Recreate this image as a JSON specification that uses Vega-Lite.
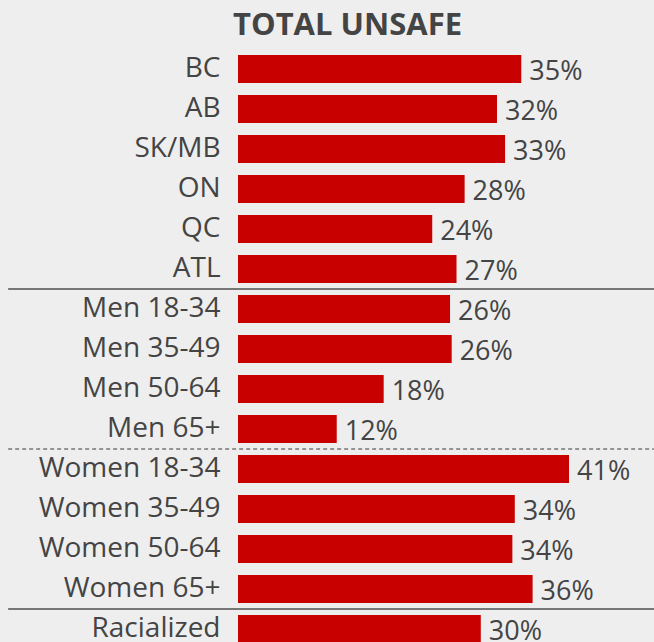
{
  "$schema": "https://vega.github.io/schema/vega-lite/v6.json",
  "autosize": "none",
  "padding": {"left": 238, "top": 49, "right": 0, "bottom": 0},
  "width": 416,
  "height": 600,
  "background": "#eeeeee",
  "config": {"view": {"stroke": null}, "font": "Open Sans"},
  "title": {"text": "TOTAL UNSAFE", "fontSize": 31, "fontWeight": "bold", "color": "#444444", "font": "Open Sans", "anchor": "middle", "frame": "bounds", "offset": 7, "dx": 14},
  "datasets": {
    "bars": [
      {"cat": "BC", "value": 0.35},
      {"cat": "AB", "value": 0.32},
      {"cat": "SK/MB", "value": 0.33},
      {"cat": "ON", "value": 0.28},
      {"cat": "QC", "value": 0.24},
      {"cat": "ATL", "value": 0.27},
      {"cat": "Men 18-34", "value": 0.262},
      {"cat": "Men 35-49", "value": 0.264},
      {"cat": "Men 50-64", "value": 0.18},
      {"cat": "Men 65+", "value": 0.122},
      {"cat": "Women 18-34", "value": 0.409},
      {"cat": "Women 35-49", "value": 0.342},
      {"cat": "Women 50-64", "value": 0.339},
      {"cat": "Women 65+", "value": 0.364},
      {"cat": "Racialized", "value": 0.30}
    ],
    "solid": [
      {"cat": "Men 18-34", "x1": -0.284, "x2": 0.52},
      {"cat": "Racialized", "x1": -0.284, "x2": 0.52}
    ],
    "dashed": [
      {"cat": "Women 18-34", "x1": -0.284, "x2": 0.52}
    ]
  },
  "encoding": {
    "y": {
      "field": "cat", "type": "nominal",
      "scale": {"domain": ["BC","AB","SK/MB","ON","QC","ATL","Men 18-34","Men 35-49","Men 50-64","Men 65+","Women 18-34","Women 35-49","Women 50-64","Women 65+","Racialized"], "paddingInner": 0, "paddingOuter": 0},
      "axis": {"title": null, "domain": false, "ticks": false, "labelFontSize": 28, "labelColor": "#444444", "labelPadding": 18, "labelFont": "Open Sans", "labelLimit": 400}
    }
  },
  "layer": [
    {
      "data": {"name": "bars"},
      "mark": {"type": "bar", "color": "#c80000", "height": 28},
      "encoding": {
        "x": {"field": "value", "type": "quantitative", "scale": {"domain": [0, 0.514], "nice": false, "zero": true}, "axis": null}
      }
    },
    {
      "data": {"name": "bars"},
      "mark": {"type": "text", "align": "left", "baseline": "middle", "dx": 8, "dy": 3, "fontSize": 27, "color": "#444444", "font": "Open Sans"},
      "encoding": {
        "x": {"field": "value", "type": "quantitative"},
        "text": {"field": "value", "type": "quantitative", "format": ".0%"}
      }
    },
    {
      "data": {"name": "solid"},
      "mark": {"type": "rule", "color": "#777777", "strokeWidth": 2},
      "encoding": {
        "y": {"field": "cat", "type": "nominal", "bandPosition": 0},
        "x": {"field": "x1", "type": "quantitative"},
        "x2": {"field": "x2"}
      }
    },
    {
      "data": {"name": "dashed"},
      "mark": {"type": "rule", "color": "#777777", "strokeWidth": 1.5, "strokeDash": [4, 3]},
      "encoding": {
        "y": {"field": "cat", "type": "nominal", "bandPosition": 0},
        "x": {"field": "x1", "type": "quantitative"},
        "x2": {"field": "x2"}
      }
    }
  ]
}
